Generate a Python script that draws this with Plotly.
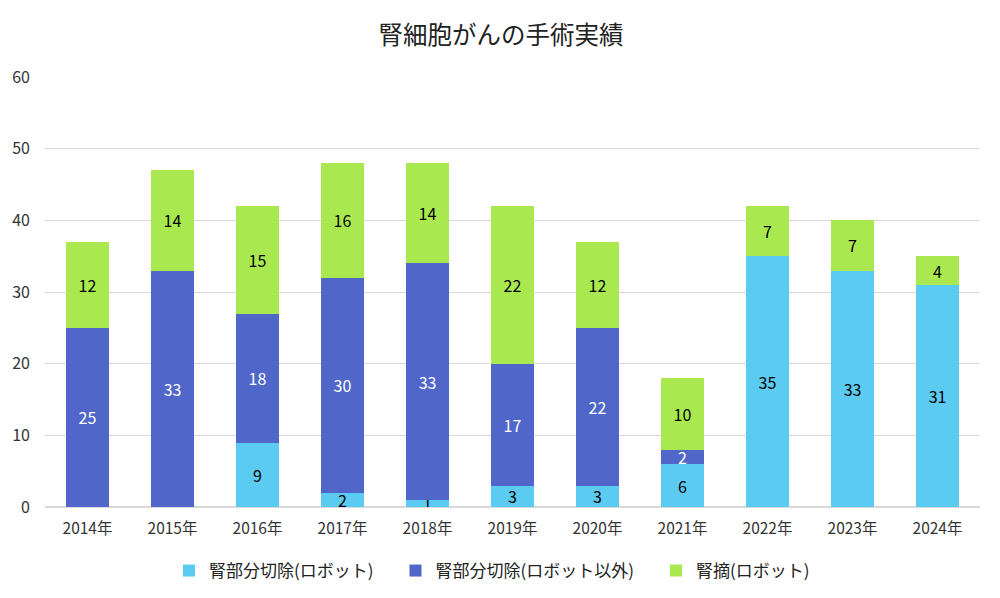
import plotly.graph_objects as go

years = ["2014年", "2015年", "2016年", "2017年", "2018年", "2019年", "2020年", "2021年", "2022年", "2023年", "2024年"]
robot_partial = [0, 0, 9, 2, 1, 3, 3, 6, 35, 33, 31]
nonrobot_partial = [25, 33, 18, 30, 33, 17, 22, 2, 0, 0, 0]
robot_nephrectomy = [12, 14, 15, 16, 14, 22, 12, 10, 7, 7, 4]

series = [
    ("腎部分切除(ロボット)", robot_partial, "#5CCBF2", "black"),
    ("腎部分切除(ロボット以外)", nonrobot_partial, "#5067C9", "white"),
    ("腎摘(ロボット)", robot_nephrectomy, "#A9E94F", "black"),
]

FONT = "Noto Sans CJK JP"
fig = go.Figure()
for name, vals, color, tcolor in series:
    fig.add_trace(go.Bar(
        x=years, y=vals, name=name + "\u3000",
        marker=dict(color=color, line=dict(width=0)),
        text=[str(v) if v else "" for v in vals],
        textposition="inside", insidetextanchor="middle", textangle=0,
        constraintext="none",
        textfont=dict(color=tcolor, size=16, family=FONT),
        hoverinfo="skip",
    ))

fig.update_layout(
    barmode="stack",
    bargap=0.5,
    width=1000, height=598,
    plot_bgcolor="white", paper_bgcolor="white",
    font=dict(family=FONT, size=14, color="#333333"),
    title=dict(text="腎細胞がんの手術実績", x=0.493, xref="container", xanchor="center",
               yref="container", y=1 - 27 / 598, yanchor="middle",
               font=dict(size=24.5, family=FONT, color="#222222")),
    margin=dict(l=37, r=28, t=69, b=99, autoexpand=False),
    uniformtext=dict(minsize=8, mode="show"),
    legend=dict(orientation="h", xref="container", x=0.161, xanchor="left",
                yref="container", y=35 / 598, yanchor="middle",
                font=dict(size=17, family=FONT, color="#222222"), traceorder="normal"),
    showlegend=True,
)
fig.update_yaxes(range=[0, 60], dtick=10, showgrid=True, gridcolor="#D9D9D9", gridwidth=1,
                 zeroline=True, zerolinecolor="#D9D9D9", zerolinewidth=2, automargin=False,
                 ticks="", tickfont=dict(size=16, color="#333333"), ticklabelstandoff=14)
fig.update_xaxes(showline=False, ticks="", automargin=False, ticklabelstandoff=10,
                 tickfont=dict(size=15.5, color="#333333"))

fig.write_html("out.html")
